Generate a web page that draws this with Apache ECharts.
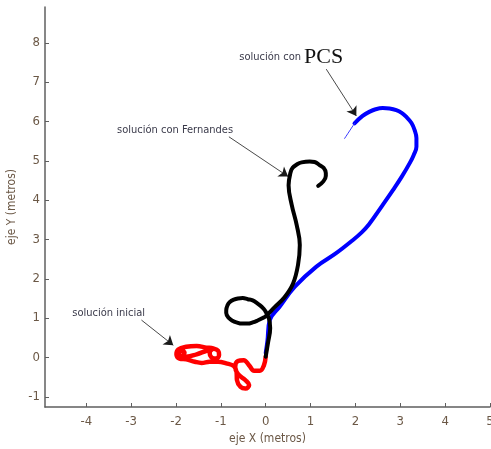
<!DOCTYPE html>
<html>
<head>
<meta charset="utf-8">
<script src="https://cdn.jsdelivr.net/npm/echarts@6/dist/echarts.min.js"></script>
<style>
  html, body { margin: 0; padding: 0; background: #fff; }
  #chart { width: 491px; height: 449px; }
</style>
</head>
<body>
<div id="chart"></div>
<script>
// trayectorias (metros)
const solInicial = [
  [0.00, 0.02], [-0.04, -0.20], [-0.13, -0.34], [-0.26, -0.34], [-0.37, -0.20],
  [-0.49, -0.07], [-0.62, -0.09], [-0.68, -0.24], [-0.62, -0.42], [-0.45, -0.58],
  [-0.37, -0.70], [-0.45, -0.79], [-0.56, -0.75], [-0.64, -0.58], [-0.65, -0.37],
  [-0.71, -0.22], [-0.88, -0.15], [-1.06, -0.11], [-1.25, -0.11], [-1.43, -0.14],
  [-1.58, -0.11], [-1.77, -0.05], [-1.92, -0.03], [-1.99, 0.08], [-1.95, 0.20],
  [-1.77, 0.27], [-1.54, 0.29], [-1.32, 0.25], [-1.17, 0.23], [-1.06, 0.17],
  [-1.04, 0.06], [-1.11, -0.03], [-1.21, 0.00], [-1.25, 0.12], [-1.19, 0.21],
  [-1.32, 0.17], [-1.54, 0.08], [-1.77, 0.02], [-1.89, 0.03], [-1.93, 0.12],
  [-1.87, 0.17], [-1.81, 0.12], [-1.84, 0.05]
];
const solPCS = [
  [0.00, 0.11], [0.04, 0.44], [0.09, 0.95], [0.31, 1.29], [0.65, 1.80],
  [1.13, 2.31], [1.57, 2.65], [1.94, 2.98], [2.14, 3.18], [2.30, 3.38],
  [2.61, 3.88], [2.84, 4.26], [3.03, 4.59], [3.21, 4.94], [3.30, 5.15],
  [3.36, 5.36], [3.36, 5.58], [3.32, 5.78], [3.25, 5.96], [3.13, 6.12],
  [3.03, 6.22], [2.91, 6.29], [2.76, 6.33], [2.61, 6.34], [2.45, 6.31],
  [2.32, 6.25], [2.16, 6.14], [1.98, 5.95]
];
const solPCSfina = [[1.98, 5.95], [1.76, 5.57]];
const solFernandes = [
  [0.00, 0.02], [0.05, 0.36], [0.10, 0.75], [0.07, 1.00], [-0.02, 1.20],
  [-0.09, 1.29], [-0.18, 1.37], [-0.29, 1.45], [-0.40, 1.48], [-0.51, 1.51],
  [-0.62, 1.50], [-0.71, 1.47], [-0.80, 1.41], [-0.85, 1.33], [-0.88, 1.20],
  [-0.88, 1.13], [-0.82, 1.00], [-0.74, 0.93], [-0.65, 0.89], [-0.53, 0.86],
  [-0.40, 0.86], [-0.29, 0.89], [-0.18, 0.94], [-0.09, 0.99], [0.00, 1.05],
  [0.20, 1.28], [0.42, 1.53], [0.61, 1.88], [0.72, 2.35], [0.76, 2.86],
  [0.69, 3.37], [0.58, 3.88], [0.51, 4.38], [0.55, 4.69], [0.60, 4.82],
  [0.71, 4.92], [0.80, 4.96], [0.98, 4.98], [1.09, 4.97], [1.20, 4.89],
  [1.29, 4.82], [1.34, 4.69], [1.34, 4.61], [1.28, 4.47], [1.17, 4.36]
];

// ejes
const xTicks = [-4, -3, -2, -1, 0, 1, 2, 3, 4, 5];
const yTicks = [-1, 0, 1, 2, 3, 4, 5, 6, 7, 8];

// anotaciones: texto, posición del texto, flecha [desde, hasta]
const notaTextos = ['{a|solución con }{b|PCS}', 'solución con Fernandes', 'solución inicial'];
const notaPos = [[0.57, 7.64], [-2.02, 5.78], [-3.50, 1.12]];
const notaFlechas = [
  [[1.35, 7.33], [2.02, 6.14]],
  [[-0.82, 5.61], [0.50, 4.60]],
  [[-2.77, 0.95], [-2.06, 0.31]]
];

const narrow = "'DejaVu Sans Condensed', 'Liberation Sans Narrow', sans-serif";
const axisGray = '#5f5f5f';
const labelColor = '#6b5846';
const noteColor = '#3a3a4a';

const chart = echarts.init(document.getElementById('chart'));

const lineSerie = (data, color, width, z) => ({
  type: 'line',
  data: data,
  showSymbol: false,
  smooth: 0.4,
  z: z,
  lineStyle: { color: color, width: width, cap: 'round', join: 'round' },
  silent: true
});

chart.setOption({
  animation: false,
  backgroundColor: '#fff',
  grid: { left: 45, right: 1, top: 7, bottom: 42, outerBoundsMode: 'none', containLabel: false },
  xAxis: {
    type: 'value',
    min: -4.92,
    max: 5,
    name: 'eje X (metros)',
    nameLocation: 'middle',
    nameGap: 26,
    nameTextStyle: { color: labelColor, fontFamily: narrow, fontSize: 12 },
    axisLine: { onZero: false, lineStyle: { color: axisGray, width: 1.5 } },
    axisTick: { inside: true, length: 4, customValues: xTicks, lineStyle: { color: axisGray } },
    axisLabel: { customValues: xTicks, color: labelColor, fontFamily: narrow, fontSize: 13, margin: 8 },
    splitLine: { show: false }
  },
  yAxis: {
    type: 'value',
    min: -1.26,
    max: 8.91,
    name: 'eje Y (metros)',
    nameLocation: 'middle',
    nameGap: 21,
    nameTextStyle: { color: labelColor, fontFamily: narrow, fontSize: 12 },
    axisLine: { onZero: false, lineStyle: { color: axisGray, width: 1.5 } },
    axisTick: { inside: true, length: 4, customValues: yTicks, lineStyle: { color: axisGray } },
    axisLabel: { customValues: yTicks, color: labelColor, fontFamily: narrow, fontSize: 13, margin: 5 },
    splitLine: { show: false }
  },
  series: [
    lineSerie(solInicial, '#ff0000', 4.5, 2),
    lineSerie(solPCS, '#0000ff', 4, 3),
    lineSerie(solPCSfina, '#3b3bff', 1, 3),
    lineSerie(solFernandes, '#000000', 4, 4),
    {
      type: 'line',
      data: [],
      z: 5,
      markLine: {
        silent: true,
        animation: false,
        symbol: ['none', 'arrow'],
        symbolSize: 9,
        label: { show: false },
        lineStyle: { color: '#1a1a1a', width: 0.8, type: 'solid' },
        data: notaFlechas.map(f => [{ coord: f[0] }, { coord: f[1] }])
      },
      markPoint: {
        silent: true,
        animation: false,
        symbol: 'rect',
        symbolSize: 1,
        itemStyle: { color: 'rgba(0,0,0,0)' },
        data: notaPos.map((p, i) => ({
          coord: p,
          label: {
            show: true,
            position: 'inside',
            formatter: notaTextos[i],
            color: noteColor,
            fontFamily: narrow,
            fontSize: 11,
            rich: {
              a: { color: noteColor, fontFamily: narrow, fontSize: 11 },
              b: { color: '#111', fontFamily: "'Liberation Serif', 'DejaVu Serif', serif", fontSize: 22 }
            }
          }
        }))
      }
    }
  ]
});
</script>
</body>
</html>
